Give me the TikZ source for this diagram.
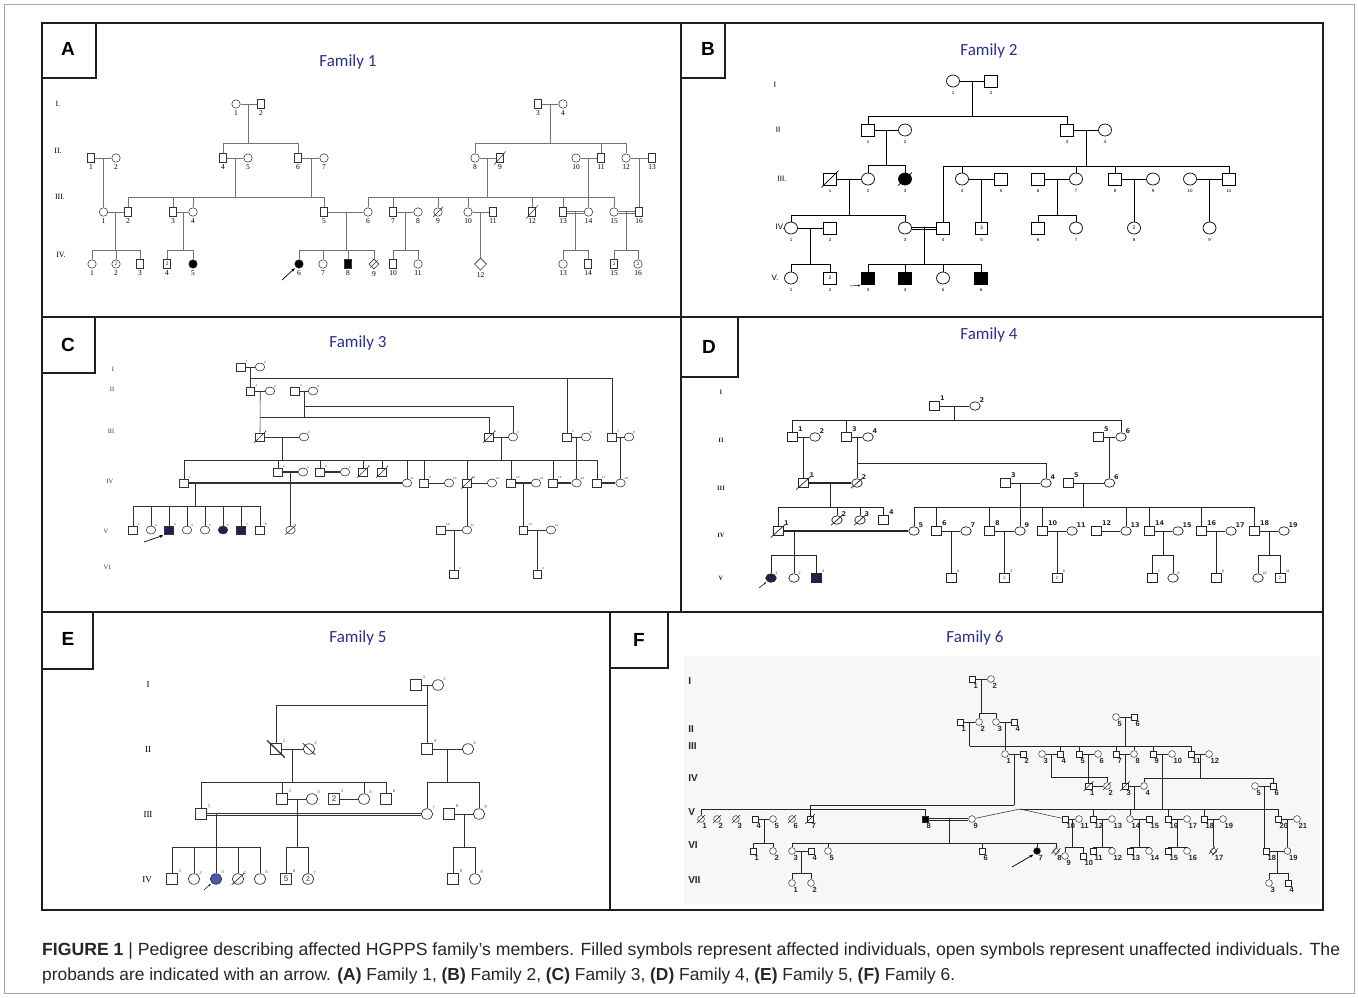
\documentclass[tikz,border=0pt]{standalone}
\usepackage{fontspec}
\setmainfont{Liberation Sans}
\newfontfamily\tms{Liberation Serif}
\newfontfamily\carl{Carlito}
\newfontfamily\dvs{DejaVu Sans}
\usetikzlibrary{calc,shapes.geometric,arrows.meta}
\definecolor{ttlc}{HTML}{2B2F8E}
\definecolor{navy}{HTML}{1C2352}
\definecolor{eblue}{HTML}{4A58B0}
\definecolor{pfc}{HTML}{1E1E1E}
\newcommand\psib[3]{\coordinate (sibY) at (0,#2);\draw (#1) -- (#1 |- sibY);\foreach \ch in {#3}{\draw (\ch.north) -- (\ch.north |- sibY) -- (#1 |- sibY);}}
\newcommand\pmar[3]{\draw (#1) -- (#2);\coordinate (#3) at ($(#1)!0.5!(#2)$);}
\newcommand\pdmar[3]{\draw ([yshift=1.1pt]#1.east) -- ([yshift=1.1pt]#2.west);\draw ([yshift=-1.1pt]#1.east) -- ([yshift=-1.1pt]#2.west);\coordinate (#3) at ($(#1)!0.5!(#2)$);}
\newcommand\ptmar[3]{\draw[line width=1.3pt] (#1) -- (#2);\coordinate (#3) at ($(#1)!0.5!(#2)$);}
\newcommand\pdec[2][2]{\draw ([shift={(-#1,#1)}]#2.south west) -- ([shift={(#1,-#1)}]#2.north east);}
\newcommand\pdecb[2][2]{\draw[line width=1.3pt] ([shift={(-#1,-#1)}]#2.north west) -- ([shift={(#1,#1)}]#2.south east);}
\newcommand\pddec[1]{\draw ($(#1)+(-4.5,3)$) -- ($(#1)+(1.5,-4.5)$);\draw ($(#1)+(-1.5,4.5)$) -- ($(#1)+(4.5,-3)$);}
\newcommand\pind[5][]{\node[#2,#1,nb={#5}] (#3) at (#4) {};}
\newcommand\pindt[6][]{\node[#2,#1,nb={#5}] (#3) at (#4) {#6};}
\tikzset{
  pf/.style={line width=2.2pt, draw=pfc},
  lb/.style={line width=1.5pt, draw=pfc},
  ttl/.style={font=\carl\fontsize{17}{17}\selectfont, text=ttlc},
  panl/.style={font=\bfseries\fontsize{19}{19}\selectfont},
  aff/.style={fill=black},
  affn/.style={fill=navy},
  affe/.style={fill=eblue},
  dotc/.style={path picture={\fill (path picture bounding box.center) circle (0.8pt);}},
  arr/.style={draw=black, -{Stealth[length=4pt,width=3pt]}, line width=0.7pt}
}
\begin{document}
\begin{tikzpicture}[x=1pt,y=-1pt]
\useasboundingbox (0,0) rectangle (1358,997);
\fill[white] (0,0) rectangle (1358,997);
\draw[black!35, line width=0.6pt] (4,4) rectangle (1354,993);

% ================= PANEL A =================
\begin{scope}[color=black!55, line width=0.55pt, label distance=1.5pt,
  m/.style={draw=black!80,rectangle,minimum width=7pt,minimum height=8.5pt,inner sep=0pt,fill=white,text=black,font=\tms\fontsize{5}{5}\selectfont},
  f/.style={draw=black!80,circle,minimum size=8.5pt,inner sep=0pt,fill=white,text=black,font=\tms\fontsize{5}{5}\selectfont},
  u/.style={draw=black!80,diamond,minimum size=12pt,inner sep=0pt,fill=white},
  nb/.style={label={[font=\tms\fontsize{7.5}{7.5}\selectfont,text=black,inner sep=0pt]below:#1}}]
\node[ttl] (tA) at (348,62) {Family 1};
\begin{scope}[font=\tms\fontsize{8}{8}\selectfont, text=black]
\node (gA1) at (58,104) {I.};
\node (gA2) at (58,151) {II.};
\node (gA3) at (60,197) {III.};
\node (gA4) at (61,255) {IV.};
\end{scope}
\pind{f}{aI1}{236,104}{1}
\pind{m}{aI2}{261,104}{2}
\pind{m}{aI3}{538,104}{3}
\pind{f}{aI4}{563,104}{4}
\pind{m}{aII1}{91,158}{1}
\pind{f}{aII2}{116,158}{2}
\pind{m}{aII4}{223,158}{4}
\pind{f}{aII5}{248,158}{5}
\pind{m}{aII6}{298,158}{6}
\pind{f}{aII7}{324,158}{7}
\pind{f}{aII8}{475,158}{8}
\pind{m}{aII9}{500,158}{9}
\pind{f}{aII10}{576,158}{10}
\pind{m}{aII11}{601,158}{11}
\pind{f}{aII12}{626,158}{12}
\pind{m}{aII13}{652,158}{13}
\pind{f}{aIII1}{103.5,212}{1}
\pind{m}{aIII2}{128,212}{2}
\pind{m}{aIII3}{173,212}{3}
\pind{f}{aIII4}{193,212}{4}
\pind{m}{aIII5}{324,212}{5}
\pind{f}{aIII6}{368,212}{6}
\pind{m}{aIII7}{393,212}{7}
\pind{f}{aIII8}{418,212}{8}
\pind{f}{aIII9}{438,212}{9}
\pind{f}{aIII10}{468,212}{10}
\pind{m}{aIII11}{493,212}{11}
\pind{m}{aIII12}{532,212}{12}
\pind{m}{aIII13}{563,212}{13}
\pind{f}{aIII14}{588.5,212}{14}
\pind{f}{aIII15}{614,212}{15}
\pind{m}{aIII16}{639,212}{16}
\pind{f}{aIV1}{92,264}{1}
\pindt{f}{aIV2}{116,264}{2}{2}
\pind{m}{aIV3}{140,264}{3}
\pindt{m}{aIV4}{167,264}{4}{2}
\pind[aff]{f}{aIV5}{193,264}{5}
\pind[aff]{f}{aIV6}{299,264}{6}
\pind{f}{aIV7}{323,264}{7}
\pind[aff]{m}{aIV8}{348,264}{8}
\pind[minimum size=10pt]{u}{aIV9}{374,264}{9}
\pind{m}{aIV10}{393,264}{10}
\pind{f}{aIV11}{418,264}{11}
\pind{u}{aIV12}{480.5,264}{12}
\pind{f}{aIV13}{563,264}{13}
\pind{m}{aIV14}{588,264}{14}
\pindt{m}{aIV15}{614,264}{15}{2}
\pindt{f}{aIV16}{638,264}{16}{2}
\begin{scope}[color=black!80]
\pdec{aII9}\pdec{aIII9}\pdec{aIII12}\pdec[1]{aIV9}
\end{scope}
\pmar{aI1}{aI2}{jA1}\psib{jA1}{143}{aII4,aII6}
\pmar{aI3}{aI4}{jA2}\psib{jA2}{143}{aII8,aII11,aII12}
\pmar{aII1}{aII2}{jA3}\draw (jA3) -- (aIII1);
\pmar{aII4}{aII5}{jA4}\psib{jA4}{197}{aIII2,aIII3,aIII4,aIII5}
\pmar{aII6}{aII7}{jA5}\psib{jA5}{197}{aIII5}
\pmar{aII8}{aII9}{jA6}\psib{jA6}{197}{aIII6,aIII7,aIII9,aIII10,aIII12,aIII13,aIII15}
\pmar{aII10}{aII11}{jA7}\draw (jA7) -- (aIII14);
\pmar{aII12}{aII13}{jA8}\draw (jA8) -- (aIII16);
\pmar{aIII1}{aIII2}{jA9}\psib{jA9}{250}{aIV1,aIV2,aIV3}
\pmar{aIII3}{aIII4}{jA10}\psib{jA10}{250}{aIV4,aIV5}
\pmar{aIII5}{aIII6}{jA11}\psib{jA11}{250}{aIV6,aIV7,aIV8,aIV9}
\pmar{aIII7}{aIII8}{jA12}\psib{jA12}{250}{aIV10,aIV11}
\pmar{aIII10}{aIII11}{jA13}\draw (jA13) -- (aIV12);
\pdmar{aIII13}{aIII14}{jA14}\psib{jA14}{250}{aIV13,aIV14}
\pdmar{aIII15}{aIII16}{jA15}\psib{jA15}{250}{aIV15,aIV16}
\coordinate (arA) at (282,280);
\draw[arr] (arA) -- ([shift={(-1,1)}]aIV6.south west);
\end{scope}

% ================= PANEL B =================
\begin{scope}[color=black, line width=0.7pt, label distance=3.5pt,
  m/.style={draw,rectangle,minimum width=12.5pt,minimum height=12pt,inner sep=0pt,fill=white,font=\fontsize{5}{5}\selectfont},
  f/.style={draw,ellipse,minimum width=13pt,minimum height=12pt,inner sep=0pt,fill=white,font=\fontsize{5}{5}\selectfont},
  nb/.style={label={[font=\fontsize{4.5}{4.5}\selectfont,inner sep=0pt]below:#1}}]
\node[ttl] (tB) at (989,51) {Family 2};
\begin{scope}[font=\fontsize{8}{8}\selectfont]
\node (gB1) at (775,85) {I};
\node (gB2) at (778,130) {II};
\node (gB3) at (782,179) {III.};
\node[anchor=east,inner sep=0pt] (gB4) at (785,227) {IV.};
\node (gB5) at (775,278) {V.};
\end{scope}
\pind{f}{bI1}{953,81}{1}
\pind{m}{bI2}{991,81}{2}
\pind{m}{bII1}{868,130}{1}
\pind{f}{bII2}{905,130}{2}
\pind{m}{bII3}{1067,130}{3}
\pind{f}{bII4}{1105,130}{4}
\pind{m}{bIII1}{830,179}{1}
\pind{f}{bIII2}{868,179}{2}
\pind[aff]{f}{bIII3}{905,179}{3}
\pind{f}{bIII4}{962,179}{4}
\pind{m}{bIII5}{1001,179}{5}
\pind{m}{bIII6}{1038,179}{6}
\pind{f}{bIII7}{1076,179}{7}
\pind{m}{bIII8}{1115,179}{8}
\pind{f}{bIII9}{1153,179}{9}
\pind{f}{bIII10}{1190,179}{10}
\pind{m}{bIII11}{1229,179}{11}
\pind{f}{bIV1}{791,228}{1}
\pind{m}{bIV2}{830,228}{2}
\pind{f}{bIV3}{905,228}{3}
\pind{m}{bIV4}{943,228}{4}
\pindt{m}{bIV5}{981.5,228}{5}{3}
\pind{m}{bIV6}{1038,228}{6}
\pind{f}{bIV7}{1076,228}{7}
\pindt{f}{bIV8}{1134,228}{8}{2}
\pind{f}{bIV9}{1209.5,228}{9}
\pind{f}{bV1}{791,278}{1}
\pindt{m}{bV2}{830,278}{2}{2}
\pind[aff]{m}{bV3}{868,278}{3}
\pind[aff]{m}{bV4}{905,278}{4}
\pind{f}{bV5}{943,278}{5}
\pind[aff]{m}{bV6}{981,278}{6}
\pdec{bIII1}\pdec{bIII3}
\pmar{bI1}{bI2}{jB1}\psib{jB1}{116}{bII1,bII3}
\pmar{bII1}{bII2}{jB2}\psib{jB2}{165}{bIII2,bIII3}
\pmar{bII3}{bII4}{jB3}\psib{jB3}{166}{bIV4,bIII4,bIII7,bIII8,bIII11}
\pmar{bIII1}{bIII2}{jB4}\psib{jB4}{215}{bIV1,bIV3}
\pmar{bIII4}{bIII5}{jB5}\draw (jB5) -- (bIV5);
\pmar{bIII6}{bIII7}{jB6}\psib{jB6}{215}{bIV6,bIV7}
\pmar{bIII8}{bIII9}{jB7}\draw (jB7) -- (bIV8);
\pmar{bIII10}{bIII11}{jB8}\draw (jB8) -- (bIV9);
\pmar{bIV1}{bIV2}{jB9}\psib{jB9}{264}{bV1,bV2}
\pdmar{bIV3}{bIV4}{jB10}\psib{jB10}{264}{bV3,bV4,bV5,bV6}
\coordinate (arB) at (850,286);
\draw[arr, -{Stealth[length=2.5pt,width=2pt]}, line width=0.5pt] (arB) -- ([shift={(-1,1)}]bV3.south west);
\end{scope}

% ================= PANEL C =================
\begin{scope}[color=black!80, line width=0.6pt, label distance=0pt,
  m/.style={draw,rectangle,minimum width=8.5pt,minimum height=8pt,inner sep=0pt,fill=white},
  f/.style={draw,ellipse,minimum width=9.5pt,minimum height=8pt,inner sep=0pt,fill=white},
  nb/.style={label={[font=\fontsize{3}{3}\selectfont,inner sep=0.3pt]north east:#1}}]
\node[ttl] (tC) at (358,343) {Family 3};
\begin{scope}[font=\tms\fontsize{6.5}{6.5}\selectfont, text=black!80]
\node (gC1) at (113,369) {I};
\node (gC2) at (112,389) {II};
\node (gC3) at (111,431) {III};
\node (gC4) at (110,481) {IV};
\node (gC5) at (106,531) {V};
\node (gC6) at (107,567) {VI};
\end{scope}
\pind{m}{cI1}{241,367}{1}
\pind{f}{cI2}{260,367}{2}
\pind{m}{cII1}{250.5,391}{1}
\pind{f}{cII2}{270,391}{2}
\pind{m}{cII3}{295,391}{3}
\pind{f}{cII4}{313,391}{4}
\pind{m}{cIII1}{260,437}{1}
\pind{f}{cIII2}{304,437}{2}
\pind{m}{cIII3}{489,437}{3}
\pind{f}{cIII4}{513,437}{4}
\pind{m}{cIII5}{567,437}{5}
\pind{f}{cIII6}{586,437}{6}
\pind{m}{cIII7}{612,437}{7}
\pind{f}{cIII8}{629,437}{8}
\pind{m}{cIV1}{184,483}{1}
\pind{m}{cIV2}{278,472}{2}
\pind{f}{cIV3}{303,472}{3}
\pind{m}{cIV4}{320,472}{4}
\pind{f}{cIV5}{345,472}{5}
\pind{m}{cIV6}{363,472}{6}
\pind{m}{cIV7}{382,472}{7}
\pind{f}{cIV8}{407,483}{8}
\pind{m}{cIV9}{424,483}{9}
\pind{f}{cIV10}{449,483}{10}
\pind{m}{cIV11}{467,483}{11}
\pind{f}{cIV12}{492,483}{12}
\pind{m}{cIV13}{511,483}{13}
\pind{f}{cIV14}{536,483}{14}
\pind{m}{cIV15}{553,483}{15}
\pind{f}{cIV16}{576.5,483}{16}
\pind{m}{cIV17}{597,483}{17}
\pind{f}{cIV18}{620.5,483}{18}
\pind{m}{cV1}{133,530}{1}
\pind{f}{cV2}{151,530}{2}
\pind[affn]{m}{cV3}{169,530}{3}
\pind{f}{cV4}{187,530}{4}
\pind{f}{cV5}{205,530}{5}
\pind[affn]{f}{cV6}{223,530}{6}
\pind[affn]{m}{cV7}{241,530}{7}
\pind{m}{cV8}{260,530}{8}
\pind{f}{cV9}{290.5,530}{9}
\pind{m}{cV10}{441,530}{10}
\pind{f}{cV11}{467,530}{11}
\pind{m}{cV12}{523.5,530}{12}
\pind{f}{cV13}{551,530}{13}
\pind{m}{cVI1}{454,574}{1}
\pind{m}{cVI2}{537.25,574}{2}
\pdec[1.5]{cIII1}\pdec[1.5]{cIII3}\pdec[1.5]{cIV6}\pdec[1.5]{cIV7}\pdec[1.5]{cIV11}\pdec[1.5]{cV9}
\pmar{cI1}{cI2}{jC1}
\draw (jC1) -- (cII1);
\coordinate (cL1) at (250.5,378);
\draw (cL1) -| (cIII5);
\draw (cL1) -| (cIII7);
\pmar{cII1}{cII2}{jC2}\draw (jC2) -- (cIII1);
\coordinate (cL2) at (260.25,417);
\draw (cL2) -| (cIII3);
\pmar{cII3}{cII4}{jC3}
\coordinate (cL3) at (304,417);
\draw (jC3) -- (cL3);
\coordinate (cL4) at (304,406);
\draw (cL4) -| (cIII4);
\pmar{cIII1}{cIII2}{jC4}\psib{jC4}{460}{cIV1,cIV2,cIV4,cIV6,cIV7,cIV8,cIV9,cIV11,cIV13,cIV15,cIV17}
\pmar{cIII3}{cIII4}{jC5}\draw (jC5) -- ++(0,23);
\pmar{cIII5}{cIII6}{jC6}\draw (jC6) -- (cIV16);
\pmar{cIII7}{cIII8}{jC7}\draw[line width=1.1pt] (jC7) -- (cIV18);
\ptmar{cIV2}{cIV3}{jC8}\draw (jC8) -- (cV9);
\ptmar{cIV4}{cIV5}{jC9x}
\ptmar{cIV1}{cIV8}{jC9y}
\coordinate (jC9) at (195,483);
\psib{jC9}{506}{cV1,cV2,cV3,cV4,cV5,cV6,cV7,cV8}
\pmar{cIV9}{cIV10}{jC10x}
\pmar{cIV11}{cIV12}{jC11x}\draw (cIV11) -- (cV11);
\ptmar{cIV13}{cIV14}{jC12}\draw (jC12) -- (cV12);
\ptmar{cIV15}{cIV16}{jC13x}
\ptmar{cIV17}{cIV18}{jC14x}
\pmar{cV10}{cV11}{jC15}\draw (jC15) -- (cVI1);
\pmar{cV12}{cV13}{jC16}\draw (jC16) -- (cVI2);
\coordinate (arC) at (144,542);
\draw[arr] (arC) -- ([shift={(-1,1)}]cV3.south west);
\end{scope}

% ================= PANEL D =================
\begin{scope}[color=black!85, line width=0.7pt, label distance=0pt,
  m/.style={draw,rectangle,minimum width=10pt,minimum height=8.5pt,inner sep=0pt,fill=white,font=\fontsize{4}{4}\selectfont},
  f/.style={draw,ellipse,minimum width=10.5pt,minimum height=8.5pt,inner sep=0pt,fill=white},
  nb/.style={label={[font=\dvs\bfseries\fontsize{6.5}{6.5}\selectfont,inner sep=0.3pt]north east:#1}}]
\node[ttl] (tD) at (989,335) {Family 4};
\begin{scope}[font=\tms\bfseries\fontsize{6.5}{6.5}\selectfont]
\node (gD1) at (721,392) {I};
\node (gD2) at (721,440) {II};
\node (gD3) at (721,488) {III};
\node (gD4) at (721,535) {IV};
\node (gD5) at (721,578) {V};
\end{scope}
\pind{m}{dI1}{934,406}{1}
\pind{f}{dI2}{975,406}{2}
\pind{m}{dII1}{792,437}{1}
\pind{f}{dII2}{815,437}{2}
\pind{m}{dII3}{846,437}{3}
\pind{f}{dII4}{868,437}{4}
\pind{m}{dII5}{1098,437}{5}
\pind{f}{dII6}{1121,437}{6}
\pind{m}{dIII1}{803.5,483}{1}
\pind{f}{dIII2}{857,483}{2}
\pind{m}{dIII3}{1005,483}{3}
\pind{f}{dIII4}{1046,483}{4}
\pind{m}{dIII5}{1068,483}{5}
\pind{f}{dIII6}{1109.5,483}{6}
\pind{m}{dIV1}{778,531}{1}
\pind{f}{dIV2}{837,520}{2}
\pind{f}{dIV3}{860,520}{3}
\pind{m}{dIV4}{883,520}{4}
\pind{f}{dIV5}{914,531}{5}
\pind{m}{dIV6}{936,531}{6}
\pind{f}{dIV7}{966,531}{7}
\pind{m}{dIV8}{989,531}{8}
\pind{f}{dIV9}{1020,531}{9}
\pind{m}{dIV10}{1042,531}{10}
\pind{f}{dIV11}{1072,531}{11}
\pind{m}{dIV12}{1096,531}{12}
\pind{f}{dIV13}{1126,531}{13}
\pind{m}{dIV14}{1149,531}{14}
\pind{f}{dIV15}{1178,531}{15}
\pind{m}{dIV16}{1201,531}{16}
\pind{f}{dIV17}{1231,531}{17}
\pind{m}{dIV18}{1254,531}{18}
\pind{f}{dIV19}{1284,531}{19}
\begin{scope}[nb/.style={label={[font=\fontsize{3.5}{3.5}\selectfont,inner sep=0.3pt]north east:#1}}]
\pind[affn]{f}{dV1}{771,578}{1}
\pind{f}{dV2}{794,578}{2}
\pind[affn]{m}{dV3}{816,578}{3}
\pind{m}{dV4}{951,578}{4}
\pindt{m}{dV5}{1004.5,578}{5}{2}
\pindt{m}{dV6}{1057,578}{6}{2}
\pind{m}{dV7}{1152,578}{7}
\pind{f}{dV8}{1173,578}{8}
\pind{m}{dV9}{1216,578}{9}
\pind{f}{dV10}{1258,578}{10}
\pindt{m}{dV11}{1280,578}{11}{2}
\end{scope}
\pdec{dIII1}\pdec{dIII2}\pdec{dIV1}\pdec{dIV2}\pdec{dIV3}
\pmar{dI1}{dI2}{jD1}\psib{jD1}{420}{dII1,dII3,dII6}
\pmar{dII1}{dII2}{jD2}\draw (jD2) -- (dIII1);
\pmar{dII3}{dII4}{jD3}\draw (jD3) -- (dIII2);
\coordinate (dL1) at (857,463);
\draw (dL1) -| (dIII4);
\pmar{dII5}{dII6}{jD4}\draw (jD4) -- (dIII6);
\ptmar{dIII1}{dIII2}{jD5}\psib{jD5}{507}{dIV1,dIV2,dIV3,dIV4}
\pmar{dIII3}{dIII4}{jD6x}
\coordinate (jD6) at (1020,483);
\draw (jD6) -- (dIV9);
\pmar{dIII5}{dIII6}{jD7x}
\coordinate (jD7) at (1083,483);
\psib{jD7}{507}{dIV5,dIV6,dIV8,dIV10,dIV13,dIV14,dIV16,dIV18}
\ptmar{dIV1}{dIV5}{jD8x}
\coordinate (jD8) at (794,531);
\psib{jD8}{555}{dV1,dV2,dV3}
\pmar{dIV6}{dIV7}{jD9}\draw (jD9) -- (dV4);
\pmar{dIV8}{dIV9}{jD10}\draw (jD10) -- (dV5);
\pmar{dIV10}{dIV11}{jD11}\draw (jD11) -- (dV6);
\pmar{dIV12}{dIV13}{jD12x}
\pmar{dIV14}{dIV15}{jD13}\psib{jD13}{555}{dV7,dV8}
\pmar{dIV16}{dIV17}{jD14}\draw (jD14) -- (dV9);
\pmar{dIV18}{dIV19}{jD15}\psib{jD15}{555}{dV10,dV11}
\coordinate (arD) at (759,588);
\draw[arr, -{Stealth[length=2.5pt,width=2pt]}, line width=0.5pt] (arD) -- ([shift={(-1,1)}]dV1.south west);
\end{scope}

% ================= PANEL E =================
\begin{scope}[color=black!80, line width=0.7pt, label distance=1pt,
  m/.style={draw,rectangle,minimum width=11pt,minimum height=10.5pt,inner sep=0pt,fill=white,font=\fontsize{8}{8}\selectfont},
  f/.style={draw,ellipse,minimum width=11.5pt,minimum height=10.5pt,inner sep=0pt,fill=white,font=\fontsize{7}{7}\selectfont},
  nb/.style={label={[font=\fontsize{4.5}{4.5}\selectfont,text=black!60,inner sep=0pt]north east:#1}}]
\node[ttl] (tE) at (358,638) {Family 5};
\begin{scope}[font=\tms\fontsize{9}{9}\selectfont, text=black]
\node (gE1) at (148,685) {I};
\node (gE2) at (148,750) {II};
\node (gE3) at (148,815) {III};
\node (gE4) at (147,880) {IV};
\end{scope}
\pind{m}{eI1}{416,685}{1}
\pind{f}{eI2}{438,685}{2}
\pind{m}{eII1}{276,749}{1}
\pind{f}{eII2}{309,749}{2}
\pind{m}{eII3}{427,749}{3}
\pind{f}{eII4}{468,749}{4}
\pind{m}{eIII1}{201,814}{1}
\pind{m}{eIII2}{282,799}{2}
\pind{f}{eIII3}{312,799}{3}
\pindt{m}{eIII4}{334,799}{4}{2}
\pind{f}{eIII5}{364,799}{5}
\pind{m}{eIII6}{386,799}{6}
\pind{f}{eIII7}{427,814}{7}
\pind{m}{eIII8}{449,814}{8}
\pind{f}{eIII9}{479,814}{9}
\pind{m}{eIV1}{172,879}{1}
\pind{f}{eIV2}{194,879}{2}
\pind[affe]{f}{eIV3}{216,879}{3}
\pind{f}{eIV4}{238,879}{4}
\pind{f}{eIV5}{260,879}{5}
\pindt{m}{eIV6}{286,879}{6}{5}
\pindt{f}{eIV7}{308,879}{7}{2}
\pind{m}{eIV8}{453,879}{8}
\pind{f}{eIV9}{475,879}{9}
\pdecb[3]{eII1}
\draw ([shift={(-2,-2)}]eII2.north west) -- ([shift={(2,2)}]eII2.south east);
\pdec{eIV4}
\pmar{eI1}{eI2}{jE1}\draw (jE1) -- (eII3);
\coordinate (eL1) at (427,705);
\draw (eL1) -| (eII1);
\pmar{eII1}{eII2}{jE2}\psib{jE2}{782}{eIII1,eIII2,eIII5,eIII6}
\pmar{eII3}{eII4}{jE3}\psib{jE3}{782}{eIII7,eIII9}
\pdmar{eIII1}{eIII7}{jE6x}
\pmar{eIII2}{eIII3}{jE4}\psib{jE4}{847}{eIV6,eIV7}
\pmar{eIII4}{eIII5}{jE5x}
\coordinate (jE6) at (216,814);
\psib{jE6}{847}{eIV1,eIV2,eIV3,eIV4,eIV5}
\pmar{eIII8}{eIII9}{jE7}\psib{jE7}{847}{eIV8,eIV9}
\coordinate (arE) at (204,890);
\draw[arr, -{Stealth[length=2.5pt,width=2pt]}, line width=0.5pt] (arE) -- ([shift={(-1,1)}]eIV3.south west);
\end{scope}

% ================= PANEL F =================
\fill[black!3] (684,656) rectangle (1320,904);
\begin{scope}[color=black!85, line width=0.5pt, label distance=1pt,
  m/.style={draw,rectangle,minimum size=6.5pt,inner sep=0pt,fill=white},
  f/.style={draw,circle,minimum size=6.8pt,inner sep=0pt,fill=white},
  dd/.style={draw,diamond,minimum size=7pt,inner sep=0pt,fill=white},
  nb/.style={label={[font=\bfseries\fontsize{7.5}{7.5}\selectfont,inner sep=0pt]-72:#1}}]
\node[ttl] (tF) at (975,638) {Family 6};
\begin{scope}[font=\bfseries\fontsize{10}{10}\selectfont, anchor=west, inner sep=0pt]
\node (gF1) at (688,681) {I};
\node (gF2) at (688,729) {II};
\node (gF3) at (688,746) {III};
\node (gF4) at (688,778) {IV};
\node (gF5) at (688,812) {V};
\node (gF6) at (688,845) {VI};
\node (gF7) at (688,880) {VII};
\end{scope}
\pind{m}{fI1}{972,679}{1}
\pind{f}{fI2}{991,679}{2}
\pind{m}{fII1}{960,722}{1}
\pind{f}{fII2}{979,722}{2}
\pind{f}{fII3}{996,722}{3}
\pind{m}{fII4}{1014,722}{4}
\pind{f}{fII5}{1116,717}{5}
\pind{m}{fII6}{1134,717}{6}
\pind{f}{fIII1}{1005,754}{1}
\pind{m}{fIII2}{1023,754}{2}
\pind{f}{fIII3}{1042,754}{3}
\pind{m}{fIII4}{1060,754}{4}
\pind{m}{fIII5}{1079,754}{5}
\pind{f}{fIII6}{1098,754}{6}
\pind{m}{fIII7}{1116,754}{7}
\pind{f}{fIII8}{1134,754}{8}
\pind{m}{fIII9}{1153,754}{9}
\pind{f}{fIII10}{1172,754}{10}
\pind{m}{fIII11}{1191,754}{11}
\pind{f}{fIII12}{1209,754}{12}
\pind{m}{fIV1}{1088.5,786}{1}
\pind{f}{fIV2}{1107,786}{2}
\pind{m}{fIV3}{1125,786}{3}
\pind{f}{fIV4}{1144,786}{4}
\pind{f}{fIV5}{1255,786}{5}
\pind{m}{fIV6}{1273,786}{6}
\pind{f}{fV1}{701,819}{1}
\pind{f}{fV2}{717,819}{2}
\pind{f}{fV3}{736,819}{3}
\pind{m}{fV4}{755,819}{4}
\pind{f}{fV5}{773,819}{5}
\pind{f}{fV6}{792,819}{6}
\pind{m}{fV7}{810,819}{7}
\pind[aff]{m}{fV8}{925,819}{8}
\pind{f}{fV9}{972,819}{9}
\pind{m}{fV10}{1065,819}{10}
\pind{f}{fV11}{1079,819}{11}
\pind{m}{fV12}{1093,819}{12}
\pind{f}{fV13}{1112,819}{13}
\pind{f}{fV14}{1130,819}{14}
\pind{m}{fV15}{1149,819}{15}
\pind{m}{fV16}{1168,819}{16}
\pind{f}{fV17}{1187,819}{17}
\pind{m}{fV18}{1204,819}{18}
\pind{f}{fV19}{1223,819}{19}
\pind{m}{fV20}{1278,819}{20}
\pind{f}{fV21}{1297,819}{21}
\pind[dotc]{m}{fVI1}{753,851}{1}
\pind[dotc]{f}{fVI2}{773,851}{2}
\pind{f}{fVI3}{792,851}{3}
\pind{m}{fVI4}{811,851}{4}
\pind[dotc]{f}{fVI5}{828,851}{5}
\pind{m}{fVI6}{982,851}{6}
\pind[aff]{f}{fVI7}{1037,851}{7}
\pind{dd}{fVI8}{1056,851}{8}
\pind{f}{fVI9}{1065,856}{9}
\pind{m}{fVI10}{1083,856}{10}
\pind[dotc]{m}{fVI11}{1093,851}{11}
\pind[dotc]{f}{fVI12}{1112,851}{12}
\pind[dotc]{m}{fVI13}{1130,851}{13}
\pind{f}{fVI14}{1149,851}{14}
\pind[dotc]{m}{fVI15}{1168,851}{15}
\pind[dotc]{f}{fVI16}{1187,851}{16}
\pind{dd}{fVI17}{1213.5,851}{17}
\pind{m}{fVI18}{1266,851}{18}
\pind{f}{fVI19}{1287.5,851}{19}
\pind{f}{fVII1}{792,883}{1}
\pind{f}{fVII2}{811,883}{2}
\pind{f}{fVII3}{1269,883}{3}
\pind[dotc]{m}{fVII4}{1288,883}{4}
\pdec[1.5]{fV1}\pdec[1.5]{fV2}\pdec[1.5]{fV3}\pdec[1.5]{fV6}\pdec[1.5]{fV7}
\pdec[1.5]{fIV1}\pdec[1.5]{fIV2}\pdec[1.5]{fIV3}
\pddec{fVI8}\pddec{fVI17}
\pmar{fI1}{fI2}{jF1}\psib{jF1}{713}{fII2,fII3}
\pmar{fII1}{fII2}{jF2}
\coordinate (fL1) at (969.5,746);
\draw (jF2) -- (fL1);
\pmar{fII3}{fII4}{jF3}\draw (jF3) -- (fIII1);
\pmar{fII5}{fII6}{jF4}\psib{jF4}{746}{fIII4,fIII5,fIII7,fIII8,fIII9,fIII11}
\draw (fL1) -- (fL1 -| fIII4);
\pmar{fIII1}{fIII2}{jF5}
\coordinate (fL2) at (1014,805);
\draw (jF5) -- (fL2);
\draw (fL2) -| (fV7);
\pmar{fIII3}{fIII4}{jF6}
\coordinate (fL3) at (1051,777);
\draw (jF6) -- (fL3) -| (fIV2);
\pmar{fIII5}{fIII6}{jF7}\draw (jF7) -- (fIV1);
\pmar{fIII7}{fIII8}{jF8}\draw (jF8) -- (fIV3);
\pmar{fIII9}{fIII10}{jF9}\draw (jF9) -- ++(0,55);
\pmar{fIII11}{fIII12}{jF10}
\coordinate (fL4) at (1200,778);
\draw (jF10) -- (fL4);
\draw (fIV4.north) |- (fL4);
\draw (fIV6.north) |- (fL4);
\pmar{fIV1}{fIV2}{jF11x}
\pmar{fIV3}{fIV4}{jF12}\draw (jF12) -- ++(0,23);
\pmar{fIV5}{fIV6}{jF13}\draw (jF13) -- (jF13 |- fVI18.north);
\coordinate (fK) at (1020,809);
\coordinate (fL5) at (1264,809);
\draw (fK) -- (fL5);
\draw (fV9) -- (fK) -- (fV10);
\foreach \ch in {fV12,fV14,fV16,fV18} {\draw (\ch.north) -- (\ch.north |- fK);}
\draw (fL5) -| (fV20);
\coordinate (fL7) at (701,809);
\draw (fV1.north) -- (fL7) -- (fL7 -| fV8) -- (fV8.north);
\pmar{fV4}{fV5}{jF14}\psib{jF14}{843}{fVI1,fVI2}
\pdmar{fV8}{fV9}{jF15x}
\coordinate (jF15) at (949,819);
\psib{jF15}{843}{fVI3,fVI5,fVI6,fVI7,fVI8}
\pmar{fV10}{fV11}{jF16}\psib{jF16}{847}{fVI9,fVI10}
\pmar{fV12}{fV13}{jF17}\psib{jF17}{847}{fVI11,fVI12}
\pmar{fV14}{fV15}{jF18}\psib{jF18}{847}{fVI13,fVI14}
\pmar{fV16}{fV17}{jF19}\psib{jF19}{847}{fVI15,fVI16}
\pmar{fV18}{fV19}{jF20}\draw (jF20) -- (fVI17);
\pmar{fV20}{fV21}{jF21}\draw (jF21) -- (fVI19);
\pmar{fVI3}{fVI4}{jF22}\psib{jF22}{873}{fVII1,fVII2}
\pmar{fVI18}{fVI19}{jF23}\psib{jF23}{873}{fVII3,fVII4}
\coordinate (arF) at (1012,867);
\draw[arr] (arF) -- ([shift={(-1,1)}]fVI7.south west);
\end{scope}

% ================= FRAMES =================
\draw[pf] (42,23) rectangle (1323,910);
\draw[pf] (42,317) -- (1323,317);
\draw[pf] (42,612) -- (1323,612);
\draw[pf] (681,23) -- (681,612);
\draw[pf] (610,612) -- (610,910);
\draw[lb] (42,78) -- (96,78) -- (96,23);
\draw[lb] (681,78) -- (725,78) -- (725,23);
\draw[lb] (42,373) -- (95,373) -- (95,317);
\draw[lb] (681,377) -- (738,377) -- (738,317);
\draw[lb] (42,669) -- (93,669) -- (93,612);
\draw[lb] (610,668) -- (668,668) -- (668,612);
\node[panl] (pA) at (68,49) {A};
\node[panl] (pB) at (708,49) {B};
\node[panl] (pC) at (68,345) {C};
\node[panl] (pD) at (709,347) {D};
\node[panl] (pE) at (68,639) {E};
\node[panl] (pF) at (639,640) {F};

% ================= CAPTION =================
\node[anchor=west, inner sep=0pt, text=black!85] (cap1) at (42,951) {\resizebox{1298pt}{!}{\fontsize{14}{14}\selectfont\textbf{FIGURE 1} | Pedigree describing affected HGPPS family’s members. Filled symbols represent affected individuals, open symbols represent unaffected individuals. The}};
\node[anchor=west, inner sep=0pt, text=black!85] (cap2) at (42,976) {\resizebox{913pt}{!}{\fontsize{14}{14}\selectfont probands are indicated with an arrow. \textbf{(A)} Family 1, \textbf{(B)} Family 2, \textbf{(C)} Family 3, \textbf{(D)} Family 4, \textbf{(E)} Family 5, \textbf{(F)} Family 6.}};
\end{tikzpicture}
\end{document}
